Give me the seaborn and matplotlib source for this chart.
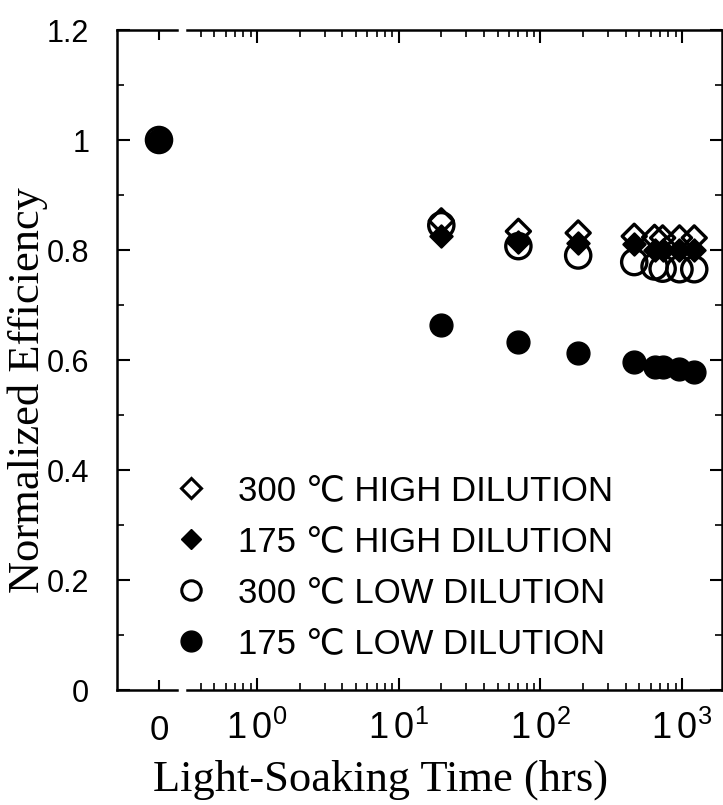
import numpy as np
import pandas as pd
import matplotlib
matplotlib.use("Agg")
import matplotlib.pyplot as plt
import seaborn as sns
from matplotlib.ticker import FixedLocator, LogLocator, NullFormatter, MultipleLocator
from matplotlib.lines import Line2D

# ---- data ----
times = [0, 20, 70, 185, 460, 640, 730, 960, 1220]
hd300 = [1.0, 0.853, 0.834, 0.831, 0.825, 0.823, 0.822, 0.822, 0.822]
hd175 = [1.0, 0.826, 0.815, 0.813, 0.810, 0.800, 0.800, 0.800, 0.800]
ld300 = [1.0, 0.845, 0.807, 0.790, 0.778, 0.770, 0.766, 0.765, 0.765]
ld175 = [1.0, 0.664, 0.633, 0.613, 0.596, 0.588, 0.587, 0.583, 0.579]
series_labels = ["300 \u2103 HIGH DILUTION", "175 \u2103 HIGH DILUTION",
                 "300 \u2103 LOW DILUTION", "175 \u2103 LOW DILUTION"]
y_ticks = [0, 0.2, 0.4, 0.6, 0.8, 1.0, 1.2]
y_ticklabels = ["0", "0.2", "0.4", "0.6", "0.8", "1", "1.2"]
x_log_ticks = [1, 10, 100, 1000]
x_log_ticklabels = [r"$\mathregular{1\,0^{0}}$", r"$\mathregular{1\,0^{1}}$",
                    r"$\mathregular{1\,0^{2}}$", r"$\mathregular{1\,0^{3}}$"]

rows = []
for lab, vals in zip(series_labels, [hd300, hd175, ld300, ld175]):
    for t, v in zip(times, vals):
        rows.append({"time": t, "eff": v, "series": lab})
df = pd.DataFrame(rows)

sns.set_style("ticks")
plt.rcParams["font.family"] = ["Liberation Sans", "DejaVu Sans"]
plt.rcParams["mathtext.fontset"] = "custom"
plt.rcParams["mathtext.rm"] = "Liberation Sans"
plt.rcParams["text.color"] = "black"
plt.rcParams["xtick.color"] = "black"
plt.rcParams["ytick.color"] = "black"
plt.rcParams["axes.edgecolor"] = "black"

W, H = 723, 805
fig = plt.figure(figsize=(W / 100, H / 100), dpi=100)
fig.patch.set_facecolor("white")

bottom = 1 - 690 / H
top = 1 - 30 / H
ax0 = fig.add_axes([117 / W, bottom, 60 / W, top - bottom])
ax1 = fig.add_axes([187 / W, bottom, 535 / W, top - bottom], sharey=ax0)

styles = {
    series_labels[0]: dict(marker="D", s=150, facecolor="none", edgecolor="black", linewidth=2.4, zorder=5),
    series_labels[1]: dict(marker="D", s=130, facecolor="black", edgecolor="black", linewidth=1.5, zorder=4),
    series_labels[2]: dict(marker="o", s=330, facecolor="none", edgecolor="black", linewidth=2.4, zorder=3),
    series_labels[3]: dict(marker="o", s=270, facecolor="black", edgecolor="black", linewidth=1.0, zorder=3),
}

for lab in series_labels:
    sub = df[df["series"] == lab]
    st = styles[lab]
    sns.scatterplot(data=sub[sub["time"] == 0], x="time", y="eff", ax=ax0, legend=False, **st)
    sns.scatterplot(data=sub[sub["time"] > 0], x="time", y="eff", ax=ax1, legend=False, **st)

# axis limits / scales
ax0.set_xlim(-0.7, 0.3)
ax1.set_xscale("log")
ax1.set_xlim(10 ** ((187 - 257) / 141.7), 10 ** (3 + (722 - 682) / 141.7))
ax0.set_ylim(0, 1.2)

for ax in (ax0, ax1):
    ax.set_xlabel("")
    ax.set_ylabel("")
    for sp in ax.spines.values():
        sp.set_linewidth(1.8)
        sp.set_color("black")

ax0.spines["right"].set_visible(False)
ax1.spines["left"].set_visible(False)

# ticks ax0
ax0.set_xticks([0])
ax0.set_xticklabels(["0"])
ax0.set_yticks(y_ticks)
ax0.set_yticklabels(y_ticklabels)
ax0.yaxis.set_minor_locator(MultipleLocator(0.1))
ax0.tick_params(axis="x", which="major", direction="in", top=True, bottom=True,
                length=7, width=1.5, labelsize=25, pad=17)
ax0.tick_params(axis="y", which="major", direction="in", left=True, right=False,
                length=9, width=1.5, labelsize=22, pad=20)
ax0.tick_params(axis="y", which="minor", direction="in", left=True, right=False,
                length=5, width=1.2)

# ticks ax1
ax1.xaxis.set_major_locator(FixedLocator(x_log_ticks))
ax1.set_xticklabels(x_log_ticklabels)
ax1.xaxis.set_minor_locator(LogLocator(base=10, subs=np.arange(2, 10), numticks=20))
ax1.xaxis.set_minor_formatter(NullFormatter())
ax1.tick_params(axis="x", which="major", direction="in", top=True, bottom=True,
                length=9, width=1.5, labelsize=26, pad=15)
ax1.tick_params(axis="x", which="minor", direction="in", top=True, bottom=True,
                length=5, width=1.2)
ax1.tick_params(axis="y", which="both", direction="in", left=False, right=True,
                labelleft=False, labelright=False)
ax1.tick_params(axis="y", which="major", length=9, width=1.5)
ax1.tick_params(axis="y", which="minor", length=5, width=1.2)

# axis titles
fig.text(381 / W, 1 - 780 / H, "Light-Soaking Time (hrs)",
         ha="center", va="center", fontsize=32, family=["Liberation Serif"])
fig.text(28 / W, 1 - 390 / H, "Normalized Efficiency", rotation=90,
         ha="center", va="center", fontsize=32, family=["Liberation Serif"])

# legend
handles = [
    Line2D([], [], linestyle="none", marker="D", markersize=10, markerfacecolor="none",
           markeredgecolor="black", markeredgewidth=2.2),
    Line2D([], [], linestyle="none", marker="D", markersize=10, markerfacecolor="black",
           markeredgecolor="black"),
    Line2D([], [], linestyle="none", marker="o", markersize=14, markerfacecolor="none",
           markeredgecolor="black", markeredgewidth=2.2),
    Line2D([], [], linestyle="none", marker="o", markersize=15, markerfacecolor="black",
           markeredgecolor="black"),
]
fig.legend(handles, series_labels, loc="upper left",
           bbox_to_anchor=(156 / W, 1 - 474 / H), frameon=False, fontsize=25,
           handletextpad=0.35, labelspacing=0.52, borderaxespad=0, borderpad=0)

fig.savefig("out.png", dpi=100, facecolor="white")
